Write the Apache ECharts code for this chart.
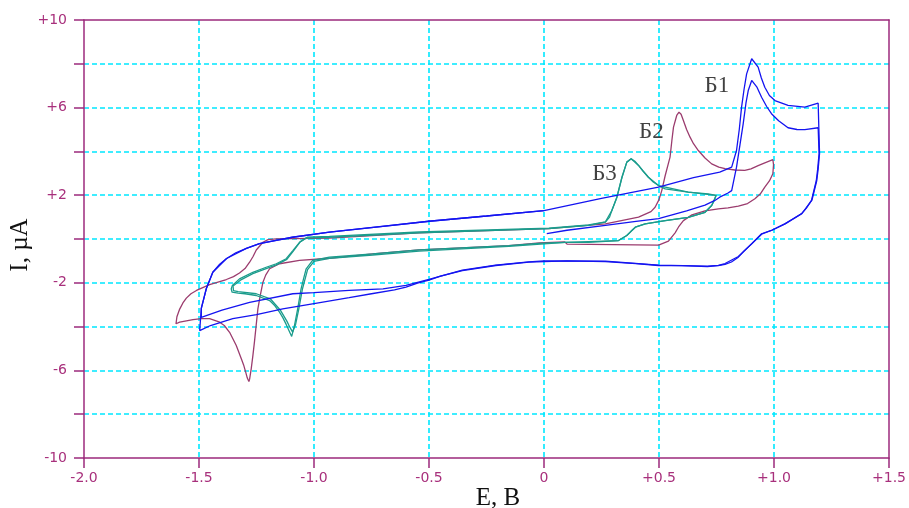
<!DOCTYPE html>
<html><head><meta charset="utf-8">
<script src="https://cdn.jsdelivr.net/npm/echarts@6/dist/echarts.min.js"></script>
<style>html,body{margin:0;padding:0;background:#fff}#c{width:909px;height:508px}</style>
</head><body><div id="c"></div>
<script>
// ---- data (E in V, I in µA) ----
const xTickValues = [-2.0,-1.5,-1.0,-0.5,0,0.5,1.0,1.5];
const yLabelValues = [-10,-6,-2,2,6,10];

const blueCycle1 = [[0.012,0.25],[0.10,0.40],[0.267,0.62],[0.40,0.80],[0.498,0.93],[0.62,1.28],[0.70,1.55],[0.743,1.76],[0.764,1.91],[0.80,2.10],[0.816,2.21],[0.837,3.28],[0.852,4.3],[0.866,5.26],[0.878,6.2],[0.888,6.78],[0.903,7.24],[0.910,7.27],[0.925,6.95],[0.946,6.47],[0.968,6.05],[0.989,5.72],[1.02,5.40],[1.061,5.08],[1.10,5.00],[1.134,4.99],[1.192,5.08],[1.196,5.08],
 [1.196,3.9],[1.190,3.2],[1.184,2.67],[1.163,1.76],[1.140,1.40],[1.119,1.15],[1.08,0.90],[1.047,0.69],[0.989,0.39],[0.946,0.24],[0.903,-0.22],[0.87,-0.55],[0.845,-0.83],[0.815,-1.05],[0.787,-1.16],[0.758,-1.22],[0.71,-1.26],[0.60,-1.22],[0.498,-1.21],[0.40,-1.12],[0.267,-1.03],[0.10,-1.00],[-0.066,-1.06],[-0.21,-1.21],[-0.355,-1.44],[-0.45,-1.70],[-0.50,-1.88],[-0.55,-2.02],[-0.60,-2.20],[-0.65,-2.32],[-0.75,-2.50],[-0.847,-2.68],[-1.0,-2.95],[-1.136,-3.19],[-1.25,-3.45],[-1.353,-3.64],[-1.45,-3.95],[-1.497,-4.18],
 [-1.497,-4.22],[-1.49,-3.17],[-1.468,-2.26],[-1.44,-1.52],[-1.41,-1.15],[-1.38,-0.89],[-1.34,-0.63],[-1.294,-0.43],[-1.237,-0.21],[-1.16,-0.05],[-1.094,0.08],[-0.933,0.31],[-0.70,0.58],[-0.5,0.81],[-0.25,1.05],[0.0,1.30]];

const blueCycle2 = [[0.0,1.30],[0.25,1.85],[0.498,2.37],[0.65,2.80],[0.764,3.05],[0.816,3.28],[0.837,4.04],[0.849,5.0],[0.859,6.02],[0.870,6.85],[0.881,7.54],[0.903,8.23],[0.910,8.30],[0.931,7.85],[0.945,7.35],[0.960,6.93],[0.98,6.55],[1.004,6.32],[1.061,6.10],[1.134,6.02],[1.192,6.20],[1.198,6.22],
 [1.198,3.9],[1.192,3.2],[1.186,2.67],[1.165,1.78],[1.121,1.16],[1.05,0.70],[0.99,0.40],[0.946,0.22],[0.905,-0.20],[0.845,-0.80],[0.787,-1.12],[0.758,-1.20],[0.71,-1.24],[0.498,-1.19],[0.267,-1.01],[0.0,-1.0],[-0.066,-1.04],[-0.21,-1.19],[-0.355,-1.42],[-0.5,-1.84],[-0.6,-2.12],[-0.7,-2.28],[-0.847,-2.35],[-1.0,-2.45],[-1.092,-2.50],[-1.28,-2.89],[-1.40,-3.25],[-1.49,-3.58],
 [-1.496,-3.50],[-1.49,-3.17],[-1.468,-2.26],[-1.44,-1.52],[-1.38,-0.89],[-1.294,-0.43],[-1.237,-0.21],[-1.094,0.08],[-0.933,0.31],[-0.5,0.81],[-0.25,1.05],[0.0,1.30]];

const maroonCycle = [[-0.933,0.04],[-0.543,0.28],[0.021,0.47],[0.267,0.69],[0.411,1.0],[0.465,1.25],[0.483,1.45],[0.50,1.80],[0.512,2.21],[0.527,2.90],[0.548,3.74],[0.556,4.5],[0.563,5.11],[0.577,5.64],[0.587,5.79],[0.596,5.70],[0.606,5.41],[0.62,5.0],[0.635,4.65],[0.65,4.35],[0.671,4.04],[0.70,3.70],[0.729,3.43],[0.76,3.28],[0.787,3.21],[0.83,3.15],[0.873,3.13],[0.90,3.20],[0.931,3.35],[0.96,3.48],[0.995,3.62],[0.998,3.40],[0.995,2.98],[0.98,2.65],[0.96,2.37],[0.94,2.05],[0.917,1.84],[0.885,1.62],[0.845,1.50],[0.80,1.42],[0.758,1.38],[0.70,1.28],[0.643,1.10],[0.606,0.84],[0.585,0.55],[0.57,0.28],[0.541,-0.10],[0.498,-0.28],[0.30,-0.26],[0.10,-0.23],[0.09,-0.13],[-0.02,-0.18],[-0.153,-0.30],[-0.543,-0.50],[-0.745,-0.68],[-0.933,-0.88],[-1.063,-0.98],[-1.15,-1.13],[-1.193,-1.36],[-1.210,-1.65],[-1.222,-1.97],[-1.234,-2.6],[-1.244,-3.19],[-1.252,-4.0],[-1.259,-4.71],[-1.266,-5.35],[-1.273,-5.93],[-1.280,-6.40],[-1.283,-6.51],[-1.290,-6.35],[-1.297,-6.08],[-1.306,-5.75],[-1.316,-5.47],[-1.338,-4.86],[-1.367,-4.26],[-1.39,-3.95],[-1.41,-3.80],[-1.454,-3.64],[-1.49,-3.64],[-1.526,-3.68],[-1.584,-3.80],[-1.600,-3.87],[-1.596,-3.55],[-1.584,-3.2],[-1.570,-2.92],[-1.555,-2.7],[-1.535,-2.5],[-1.511,-2.35],[-1.454,-2.08],[-1.381,-1.85],[-1.35,-1.72],[-1.324,-1.55],[-1.30,-1.35],[-1.28,-1.06],[-1.265,-0.80],[-1.251,-0.5],[-1.222,-0.15],[-1.200,-0.03],[-1.164,0.01],[-0.933,0.04]];

const tealCycle1 = [[-0.933,0.08],[-0.543,0.28],[0.021,0.47],[0.194,0.62],[0.267,0.77],[0.285,1.0],[0.295,1.30],[0.317,1.91],[0.339,2.82],[0.36,3.51],[0.379,3.66],[0.395,3.55],[0.411,3.36],[0.43,3.10],[0.454,2.82],[0.475,2.60],[0.498,2.44],[0.527,2.29],[0.627,2.14],[0.714,2.06],[0.748,1.99],[0.74,1.75],[0.729,1.53],[0.70,1.22],[0.627,0.99],[0.527,0.84],[0.44,0.69],[0.397,0.54],[0.378,0.35],[0.36,0.16],[0.324,-0.07],[0.194,-0.15],[0.093,-0.15],[-0.023,-0.20],[-0.153,-0.30],[-0.543,-0.50],[-0.745,-0.68],[-0.933,-0.83],[-1.006,-0.98],[-1.034,-1.36],[-1.045,-1.8],[-1.056,-2.27],[-1.071,-3.19],[-1.085,-3.95],[-1.097,-4.45],[-1.108,-4.2],[-1.121,-3.9],[-1.135,-3.6],[-1.15,-3.34],[-1.17,-3.05],[-1.193,-2.81],[-1.251,-2.58],[-1.30,-2.50],[-1.330,-2.47],[-1.356,-2.43],[-1.360,-2.28],[-1.355,-2.12],[-1.324,-1.82],[-1.266,-1.52],[-1.208,-1.29],[-1.164,-1.13],[-1.121,-0.90],[-1.092,-0.53],[-1.063,-0.15],[-1.034,0.04],[-0.933,0.08]];

const tealCycle2 = [[-0.933,0.12],[-0.543,0.32],[0.021,0.50],[0.194,0.64],[0.267,0.78],[0.295,1.30],[0.317,1.91],[0.339,2.82],[0.36,3.51],[0.379,3.66],[0.411,3.36],[0.454,2.82],[0.498,2.44],[0.627,2.14],[0.748,1.99],[0.729,1.53],[0.70,1.22],[0.627,0.99],[0.527,0.84],[0.44,0.69],[0.397,0.54],[0.36,0.16],[0.324,-0.07],[0.093,-0.15],[-0.153,-0.34],[-0.543,-0.55],[-0.745,-0.73],[-0.933,-0.88],[-1.000,-1.02],[-1.028,-1.40],[-1.050,-2.27],[-1.066,-3.19],[-1.080,-3.90],[-1.093,-4.25],[-1.104,-4.05],[-1.118,-3.75],[-1.147,-3.24],[-1.190,-2.73],[-1.251,-2.50],[-1.330,-2.40],[-1.350,-2.36],[-1.352,-2.15],[-1.320,-1.88],[-1.266,-1.58],[-1.208,-1.35],[-1.164,-1.18],[-1.118,-0.93],[-1.090,-0.55],[-1.060,-0.13],[-1.030,0.08],[-0.933,0.12]];

const peakLabels = [{name:'Б1', value:[0.752,7.01]},{name:'Б2', value:[0.467,4.91]},{name:'Б3', value:[0.263,2.95]}];

// ---- styles ----
const axisColor = '#9c2a7c';
const labelColor = '#a8307c';
const gridColor = '#00e8ff';
const blueColor = '#1414f0';
const maroonColor = '#9b3c6e';
const tealColor = '#1b9c8c';

const chart = echarts.init(document.getElementById('c'), null, {renderer:'canvas'});

function lineSeries(data, color){
  return {type:'line', data:data, showSymbol:false, symbol:'none', smooth:false, animation:false,
          lineStyle:{color:color, width:1.3}, itemStyle:{color:color}, z:3};
}

chart.setOption({
  animation:false,
  backgroundColor:'#ffffff',
  grid:{left:84, right:18, top:20, bottom:50, containLabel:false},
  xAxis:[{
    type:'value', min:-2, max:1.5, interval:0.5, position:'bottom',
    axisLine:{show:true, onZero:false, lineStyle:{color:axisColor, width:1.5}},
    axisTick:{show:true, inside:false, length:10, lineStyle:{color:axisColor, width:1.5}},
    axisLabel:{margin:13, color:labelColor, fontFamily:'DejaVu Sans', fontSize:14,
      formatter:function(v){ if (Math.abs(v)<1e-9) return '0'; return (v>0?'+':'')+v.toFixed(1); }},
    splitLine:{show:true, showMinLine:false, showMaxLine:false, lineStyle:{color:gridColor, type:[5,3], width:1.6}}
  },{
    type:'value', min:-2, max:1.5, position:'top',
    axisLine:{show:true, onZero:false, lineStyle:{color:axisColor, width:1.5}},
    axisTick:{show:false}, axisLabel:{show:false}, splitLine:{show:false}
  }],
  yAxis:[{
    type:'value', min:-10, max:10, interval:2, position:'left',
    axisLine:{show:true, onZero:false, lineStyle:{color:axisColor, width:1.5}},
    axisTick:{show:true, inside:false, length:10, lineStyle:{color:axisColor, width:1.5}},
    axisLabel:{margin:17, color:labelColor, fontFamily:'DejaVu Sans', fontSize:14,
      formatter:function(v){ if (yLabelValues.indexOf(v)<0) return ''; return (v>0?'+':'')+v; }},
    splitLine:{show:true, showMinLine:false, showMaxLine:false, lineStyle:{color:gridColor, type:[5,3], width:1.6}}
  },{
    type:'value', min:-10, max:10, position:'right',
    axisLine:{show:true, onZero:false, lineStyle:{color:axisColor, width:1.5}},
    axisTick:{show:false}, axisLabel:{show:false}, splitLine:{show:false}
  }],
  series:[
    lineSeries(maroonCycle, maroonColor),
    lineSeries(tealCycle1, tealColor),
    lineSeries(tealCycle2, tealColor),
    lineSeries(blueCycle1, blueColor),
    lineSeries(blueCycle2, blueColor),
    {type:'scatter', data:peakLabels, symbolSize:1, itemStyle:{color:'rgba(0,0,0,0)'}, animation:false, z:5,
     label:{show:true, position:'inside', formatter:'{b}', fontFamily:'Liberation Serif', fontSize:23, color:'#111111'}}
  ],
  graphic:[
    {type:'text', x:498, y:498, style:{text:'E, B', fontFamily:'Liberation Serif', fontSize:25, fill:'#111111',
      textAlign:'center', textVerticalAlign:'middle', align:'center', verticalAlign:'middle'}},
    {type:'text', x:20, y:245, rotation:Math.PI/2, style:{text:'I, µA', fontFamily:'Liberation Serif', fontSize:25, fill:'#111111',
      textAlign:'center', textVerticalAlign:'middle', align:'center', verticalAlign:'middle'}}
  ]
});
</script>
</body></html>
